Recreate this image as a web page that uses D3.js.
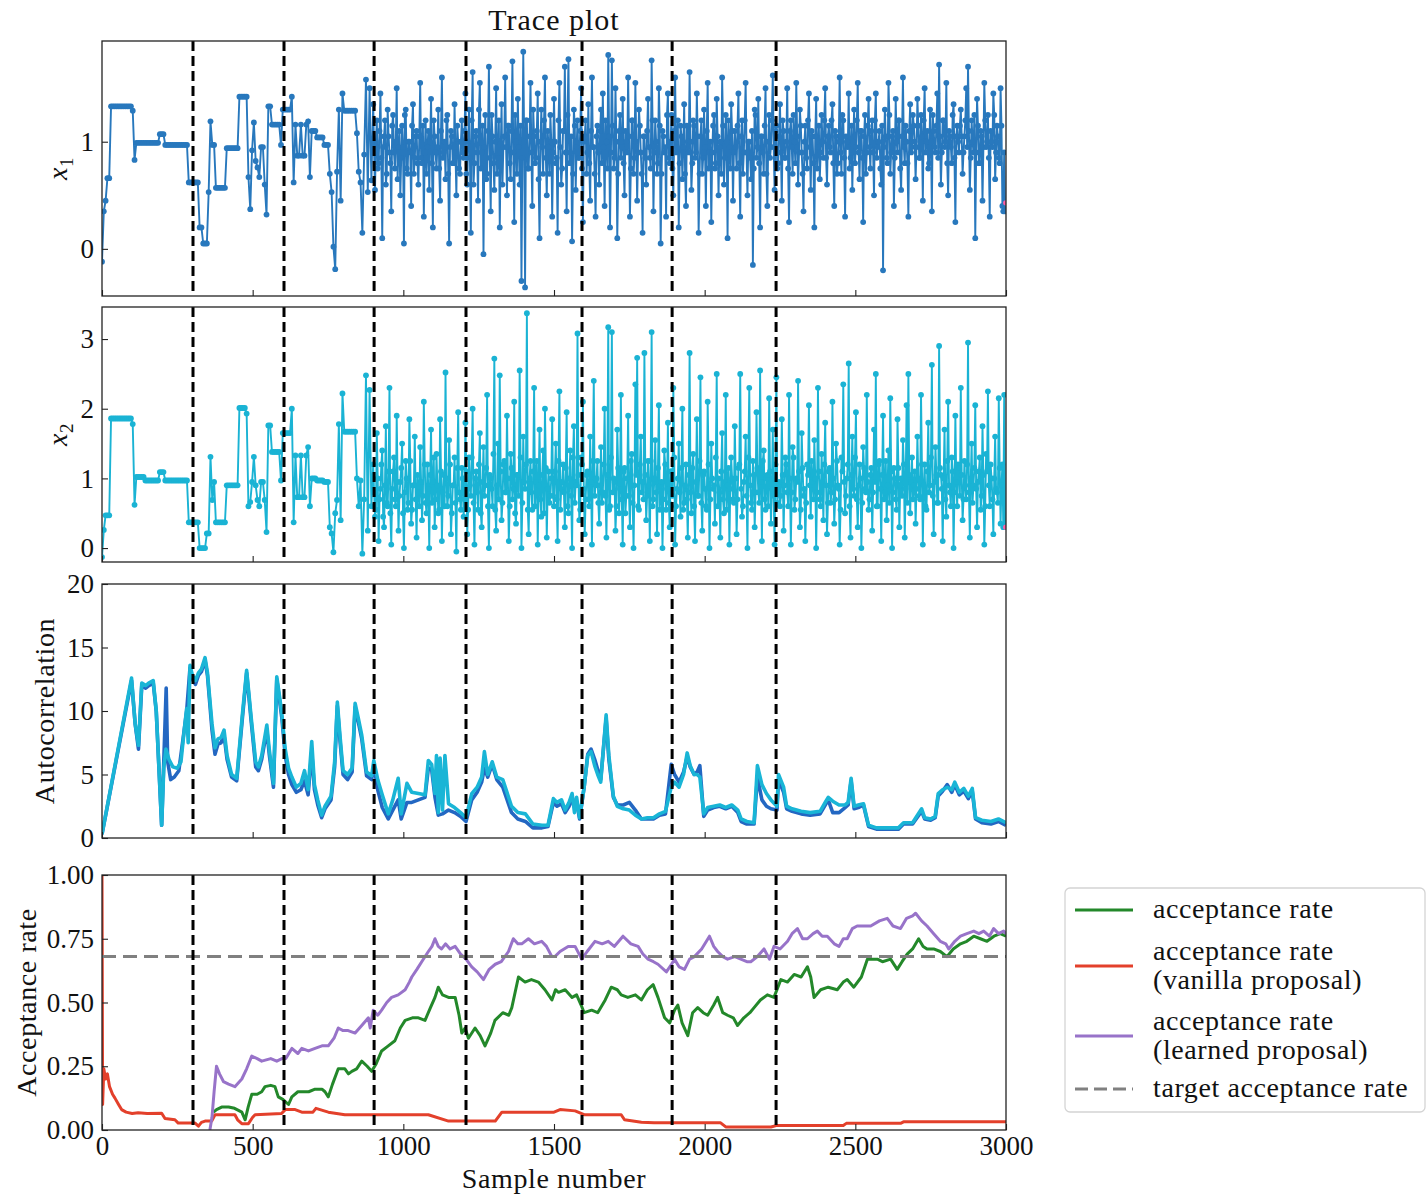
<!DOCTYPE html>
<html>
<head>
<meta charset="utf-8">
<script src="https://cdn.jsdelivr.net/npm/d3@7"></script>
<style>
  body { margin: 0; background: #fff; }
  text { font-family: "Liberation Serif", "Times New Roman", serif; fill: #111; }
  .lbl { font-size: 28px; letter-spacing: 0.6px; }
</style>
</head>
<body>
<svg id="chart" width="1426" height="1194"></svg>
<script>
// samples are stored every traceStep iterations of the chain
const traceStep = 6;
// extra samples in the well-mixed part of the chain (from sample 903 on, every 6)
const midStart = 903;

const traceX1 = [
  -0.12, 0.35, 0.45, 0.66, 0.66, 1.33, 1.33, 1.33, 1.33, 1.33, 1.33, 1.33, 1.33, 1.33, 1.33, 1.33, 1.33, 1.29, 0.83, 0.99, 0.99, 0.99, 0.99, 0.99, 0.99,
  0.99, 0.99, 0.99, 0.99, 0.99, 0.99, 0.99, 1.07, 1.07, 1.07, 0.97, 0.97, 0.97, 0.97, 0.97, 0.97, 0.97, 0.97, 0.97, 0.97, 0.97, 0.97, 0.97, 0.62, 0.62,
  0.62, 0.62, 0.62, 0.62, 0.2, 0.2, 0.05, 0.05, 0.05, 0.53, 1.19, 0.97, 0.97, 0.57, 0.57, 0.57, 0.57, 0.57, 0.57, 0.94, 0.94, 0.94, 0.94, 0.94, 0.94,
  0.94, 1.42, 1.42, 1.42, 1.42, 1.42, 0.67, 0.37, 0.92, 1.18, 0.82, 0.76, 0.67, 0.95, 0.95, 0.6, 0.32, 1.33, 1.33, 1.16, 1.16, 1.16, 1.16, 1.16, 0.97,
  1.3, 1.3, 1.3, 1.3, 1.3, 1.42, 0.62, 1.16, 0.87, 0.87, 1.16, 0.87, 0.87, 1.16, 1.19, 0.67, 1.1, 1.1, 1.1, 1.04, 1.04, 1.04, 1.04, 0.97, 0.97,
  0.97, 0.7, 0.53, 0.02, -0.19, 0.72, 1.3, 0.45, 1.45, 1.29, 1.29, 1.29, 1.29, 1.29, 1.29, 1.29, 1.08, 0.72, 0.62, 0.15, 0.88, 1.58, 0.53, 1.5, 0.64,
  1.35, 0.55, 1.2, 0.8, 1.45, 0.1, 1.05, 0.6, 1.3, 0.9, 0.35, 1.25, 0.75, 1.5, 0.95, 0.5, 1.15, 0.05, 1.3, 0.7, 1.0, 0.4, 1.35, 0.85, 1.1,
  0.6, 1.55, 0.8, 0.3, 1.2, 0.95, 0.55, 1.4, 0.2, 1.05, 0.75, 1.3, 0.45, 1.6, 0.9, 0.65, 1.25, 0.05, 1.1, 0.8, 1.35, 0.5, 1.0, 0.7, 1.2,
  0.85, 1.45, 0.6, 1.3, 0.15, 1.65, 0.8, 1.1, 0.45, 1.55, 0.9, -0.05, 1.25, 0.7, 1.7, 0.35, 1.05, 0.55, 1.5, 0.85, 0.2, 1.35, 0.95, 1.6, 0.5,
  1.15, 0.65, 1.75, 0.25, 1.0, 1.4, 0.6, -0.3, 1.84, -0.36, 1.2, 0.75, 1.55, 0.4, 1.05, 0.85, 1.45, 0.1, 1.3, 0.7, 1.6, 0.5, 0.95, 1.25, 0.3,
  1.4, 0.8, 0.15, 1.55, 0.6, 1.1, 1.7, 0.35, 1.77, 0.9, 0.07, 1.3, 0.55, 1.2, 0.85, 1.5, 0.25, 1.05, 0.7, 1.35, 0.45, 1.6, 0.95, 0.3, 1.15,
  0.6, 1.3, 1.45, 0.4, 1.0, 1.81, 0.2, 1.76, 0.75, 1.5, 0.1, 1.1, 0.85, 1.4, 0.5, 1.0, 1.6, 0.3, 1.2, 0.7, 1.55, 0.45, 1.3, 0.9, 0.15,
  1.05, 0.6, 1.4, 0.85, 1.76, 0.35, 1.2, 0.7, 1.5, 0.05, 1.1, 0.9, 0.3, 1.45, 0.8, 1.25, 0.5, 1.6, 0.95, 0.2, 1.15, 0.65, 1.35, 0.4, 1.0,
  1.65, 0.55, 1.2, 0.85, 1.45, 0.15, 1.05, 0.7, 1.3, 0.4, 1.55, 0.9, 0.25, 1.15, 0.75, 1.4, 0.5, 1.0, 1.6, 0.6, 1.25, 0.1, 0.95, 1.35, 0.45,
  1.1, 0.75, 1.45, 0.3, 1.2, 0.9, 1.55, 0.5, 1.0, 0.65, -0.15, 1.3, 0.85, 1.4, 0.2, 1.05, 0.7, 1.5, 0.4, 1.25, 0.95, 1.62, 0.55, 1.15, 0.8,
  1.35, 0.45, 1.1, 0.85, 1.5, 0.25, 1.2, 0.7, 1.0, 1.55, 0.6, 1.3, 0.9, 0.35, 1.15, 0.75, 1.45, 0.55, 1.05, 0.2, 1.4, 0.95, 0.65, 1.25, 0.85,
  1.5, 0.6, 1.15, 0.9, 1.35, 0.4, 1.05, 0.8, 1.6, 0.7, 1.2, 0.3, 1.0, 1.45, 0.85, 0.55, 1.3, 0.95, 1.55, 0.65, 1.1, 0.25, 1.25, 0.9, 1.4,
  0.75, 1.2, 0.5, 1.45, 0.95, 1.1, 0.6, -0.2, 1.3, 0.85, 1.55, 0.7, 1.05, 0.4, 1.4, 0.9, 1.2, 0.55, 1.6, 0.8, 1.0, 0.3, 1.35, 0.95, 1.15,
  0.65, 1.4, 0.85, 1.25, 0.45, 1.5, 1.0, 0.75, 1.3, 0.35, 1.1, 0.9, 1.45, 1.72, 0.6, 1.2, 0.95, 1.55, 0.5, 1.05, 0.8, 1.35, 0.25, 1.15, 0.9,
  1.3, 0.7, 1.05, 1.5, 1.7, 0.55, 1.2, 0.9, 0.1, 1.4, 0.8, 1.1, 0.45, 1.55, 0.95, 1.25, 0.3, 1.0, 1.45, 0.65, 1.15, 0.85, 1.5, 0.4, 0.9
];

const traceX1Mid = [
  0.9, 1.0, 0.75, 1.1, 0.85, 0.95, 1.2, 0.7, 1.05, 0.8, 1.15, 0.9, 1.0, 0.65, 1.1, 0.85, 0.95, 1.25, 0.75, 1.0, 0.9, 1.15, 0.7, 1.05, 0.8,
  1.05, 0.85, 1.15, 0.9, 0.7, 1.1, 1.0, 0.8, 1.2, 0.9, 0.95, 0.75, 1.1, 0.85, 1.0, 1.2, 0.7, 0.95, 1.05, 0.8, 0.9, 1.15, 0.75, 1.0, 0.9,
  1.1, 0.7, 1.0, 0.85, 1.2, 0.6, 1.05, 0.9, 1.3, 0.75, 1.15, 0.95, 0.65, 1.1, 0.85, 1.25, 0.8, 1.0, 0.7, 1.2, 0.9, 0.6, 1.05, 0.95, 1.15,
  0.8, 1.1, 0.9, 1.25, 0.7, 0.95, 1.15, 0.85, 1.0, 1.2, 0.75, 1.05, 0.9, 1.3, 0.8, 1.1, 0.65, 1.0, 0.95, 1.2, 0.85, 1.1, 0.7, 1.0, 0.9,
  1.0, 0.85, 1.2, 0.95, 0.75, 1.1, 0.9, 1.25, 0.8, 1.05, 0.7, 1.15, 0.95, 0.85, 1.1, 0.75, 1.0, 1.2, 0.9, 0.8, 1.1, 0.95, 0.7, 1.05, 0.9,
  1.1, 0.8, 0.95, 1.2, 0.75, 1.05, 0.9, 1.15, 0.85, 1.0, 0.7, 1.25, 0.95, 0.8, 1.1, 0.9, 1.05, 0.75, 1.2, 0.85, 1.0, 0.9, 1.15, 0.7, 1.05,
  0.85, 1.1, 0.95, 0.75, 1.2, 0.9, 1.0, 0.8, 1.15, 0.7, 1.05, 0.95, 1.25, 0.85, 1.0, 0.75, 1.1, 0.9, 1.2, 0.8, 1.05, 0.95, 0.7, 1.15, 0.9,
  1.0, 0.8, 1.15, 0.9, 1.05, 0.7, 1.2, 0.85, 0.95, 1.1, 0.75, 1.0, 0.9, 1.25, 0.8, 1.05, 0.95, 0.7, 1.15, 0.85, 1.0, 1.2, 0.75, 1.1, 0.9,
  0.95, 1.15, 0.8, 1.05, 0.7, 1.2, 0.9, 1.0, 0.85, 1.1, 0.75, 1.25, 0.95, 0.8, 1.05, 0.9, 1.15, 0.7, 1.0, 0.85, 1.2, 0.95, 1.1, 0.75, 1.05,
  0.9, 1.2, 0.85, 1.0, 0.75, 1.1, 0.95, 1.25, 0.8, 1.05, 0.9, 1.15, 0.7, 1.0, 0.85, 1.2, 0.95, 1.1, 0.8, 1.05, 0.75, 1.15, 0.9, 1.0, 1.2,
  0.85, 1.05, 0.95, 1.2, 0.8, 1.1, 0.7, 1.0, 0.9, 1.25, 0.85, 1.05, 0.95, 0.75, 1.15, 1.0, 0.8, 1.2, 0.9, 1.1, 0.85, 1.05, 0.7, 1.15, 0.95,
  1.1, 0.9, 1.2, 0.85, 1.0, 0.75, 1.15, 0.95, 1.05, 0.8, 1.25, 0.9, 1.1, 0.85, 1.0, 1.2, 0.75, 1.05, 0.95, 1.15, 0.8, 1.1, 0.9, 1.25, 1.0,
  0.95, 1.15, 0.85, 1.05, 1.2, 0.9, 1.1, 0.8, 1.0, 1.25, 0.95, 1.15, 0.85, 1.05, 0.9, 1.2, 1.0, 0.8, 1.1, 0.95, 1.25, 0.85, 1.05, 1.0, 1.15,
  1.05, 0.9, 1.2, 0.95, 1.1, 0.85, 1.0, 1.25, 0.9, 1.15, 0.8, 1.05, 0.95, 1.2, 1.0, 0.85, 1.1, 0.95, 1.25, 0.9, 1.05, 0.8, 1.15, 0.35, 0.35
];

const traceX2 = [
  -0.13, 0.26, 0.47, 0.47, 0.47, 1.86, 1.86, 1.86, 1.86, 1.86, 1.86, 1.86, 1.86, 1.86, 1.86, 1.86, 1.86, 1.78, 0.62, 1.02, 1.02, 1.02, 1.02, 1.02, 0.97,
  0.97, 0.97, 0.97, 0.97, 0.97, 0.97, 0.97, 1.09, 1.09, 1.09, 0.97, 0.97, 0.97, 0.97, 0.97, 0.97, 0.97, 0.97, 0.97, 0.97, 0.97, 0.97, 0.97, 0.37, 0.37,
  0.37, 0.37, 0.37, 0.37, 0.0, 0.0, 0.0, 0.0, 0.21, 0.21, 1.31, 0.69, 0.95, 0.37, 0.37, 0.37, 0.37, 0.37, 0.37, 0.9, 0.9, 0.9, 0.9, 0.9, 0.9,
  0.9, 2.01, 2.01, 2.01, 2.01, 1.93, 0.6, 0.66, 0.95, 1.31, 0.9, 0.69, 0.6, 0.95, 0.95, 0.69, 0.23, 1.76, 1.76, 1.38, 1.38, 1.38, 1.38, 1.38, 0.97,
  1.65, 1.65, 1.65, 1.65, 1.65, 2.0, 0.37, 1.33, 0.73, 0.73, 1.33, 0.73, 0.73, 1.33, 1.45, 0.6, 1.0, 1.0, 1.0, 0.97, 0.97, 0.97, 0.97, 0.95, 0.95,
  0.95, 0.3, 0.21, -0.06, 0.5, 0.69, 1.78, 0.4, 2.22, 1.67, 1.67, 1.67, 1.67, 1.67, 1.67, 1.67, 1.0, 0.6, 0.97, -0.08, 0.7, 2.48, 0.25, 2.27, 0.6,
  1.2, 0.45, 1.65, 0.1, 0.85, 1.4, 0.3, 1.75, 0.6, 2.3, 0.05, 1.1, 0.7, 1.9, 0.25, 0.95, 1.5, 0.0, 1.25, 0.55, 1.85, 0.35, 0.9, 1.6, 0.15,
  0.8, 1.45, 0.4, 2.1, 0.65, 1.2, 0.0, 1.7, 0.95, 0.3, 1.35, 0.5, 1.85, 0.1, 1.05, 2.52, 0.6, 1.55, 0.2, 0.9, 1.3, -0.05, 1.95, 0.7, 1.15,
  0.45, 1.8, 0.2, 1.3, 0.75, 2.0, 0.05, 1.1, 0.55, 1.65, 0.3, 1.45, 0.9, 2.2, 0.0, 1.0, 0.6, 2.72, 0.25, 1.5, 2.48, 0.4, 1.2, 0.8, 1.9,
  0.1, 1.35, 0.7, 2.1, 0.35, 1.05, 2.55, 0.0, 1.6, 0.85, 3.37, 0.2, 1.25, 0.55, 2.3, 0.95, 0.05, 1.7, 0.45, 1.4, 2.0, 0.15, 1.1, 0.75, 1.85,
  0.6, 1.5, 0.1, 2.25, 0.85, 1.2, 0.3, 1.95, 0.5, 1.4, 0.0, 1.75, 0.95, 3.08, 0.4, 1.3, 2.1, 0.2, 1.05, 0.7, 1.6, 0.05, 2.4, 0.9, 1.25,
  0.35, 1.45, 0.8, 2.0, 0.15, 3.17, 0.6, 3.1, 1.0, 0.25, 1.7, 0.5, 2.2, 0.05, 1.15, 0.75, 1.9, 0.3, 1.35, 0.0, 2.35, 2.73, 0.55, 1.6, 0.95,
  2.8, 0.4, 1.25, 0.1, 3.1, 0.7, 1.55, 0.2, 2.05, 0.9, 0.0, 1.4, 0.55, 1.8, 0.3, 1.1, 2.3, 0.05, 0.85, 1.5, 0.45, 2.0, 0.65, 1.2, 0.15,
  2.8, 0.5, 1.35, 0.1, 1.85, 0.75, 2.45, 0.25, 1.1, 0.6, 2.1, 0.0, 1.5, 0.85, 0.35, 2.5, 1.0, 0.15, 1.65, 0.5, 2.2, 0.9, 0.05, 1.3, 0.7,
  1.75, 0.2, 1.15, 2.5, 0.45, 0.95, 1.6, 0.0, 2.3, 0.65, 1.25, 0.3, 1.95, 0.8, 2.55, 0.1, 1.4, 0.55, 1.05, 2.15, 0.35, 1.7, 0.05, 2.45, 0.9,
  0.6, 1.85, 0.25, 1.3, 0.8, 2.2, 0.05, 1.45, 0.55, 1.0, 2.4, 0.3, 1.65, 0.75, 0.1, 1.2, 2.05, 0.45, 0.95, 1.55, 0.0, 2.3, 0.7, 1.35, 0.4,
  1.8, 0.2, 1.1, 0.65, 2.1, 0.35, 1.5, 0.9, 0.05, 1.3, 2.35, 0.5, 1.0, 2.65, 0.15, 1.6, 0.75, 1.95, 0.3, 1.2, 0.0, 1.45, 0.85, 2.2, 0.55,
  1.05, 0.25, 1.7, 2.5, 0.6, 1.25, 0.1, 1.9, 0.8, 0.4, 1.4, 2.15, 0.0, 1.15, 0.7, 1.85, 0.3, 1.0, 1.55, 0.15, 2.05, 2.5, 0.5, 1.3, 0.9,
  0.35, 1.6, 0.75, 2.2, 0.05, 1.2, 0.55, 1.8, 0.9, 2.63, 0.2, 1.45, 0.65, 2.9, 1.05, 0.1, 1.7, 0.45, 2.1, 0.8, 1.3, 0.0, 1.9, 0.6, 1.15,
  2.3, 0.4, 1.25, 0.7, 2.95, 0.15, 1.5, 0.9, 2.05, 0.3, 1.1, 0.55, 1.75, 0.05, 1.35, 2.25, 0.6, 1.0, 0.2, 1.6, 0.8, 2.15, 0.35, 1.2, 2.2
];

const traceX2Mid = [
  0.8, 0.55, 1.0, 0.7, 1.2, 0.45, 0.9, 0.65, 1.1, 0.5, 0.85, 1.3, 0.6, 0.95, 0.75, 1.15, 0.5, 0.8, 1.0, 0.65, 1.25, 0.55, 0.9, 0.7, 1.05,
  0.6, 0.95, 0.75, 1.2, 0.5, 0.85, 1.05, 0.65, 1.3, 0.7, 0.9, 0.55, 1.1, 0.8, 0.6, 1.0, 0.75, 1.2, 0.5, 0.9, 0.65, 1.15, 0.8, 0.55, 1.0,
  0.7, 1.1, 0.55, 0.9, 1.3, 0.65, 1.0, 0.8, 1.2, 0.5, 0.95, 0.75, 1.15, 0.6, 1.05, 0.85, 1.35, 0.55, 0.9, 0.7, 1.1, 0.65, 1.25, 0.8, 1.0,
  0.6, 1.15, 0.85, 0.5, 1.05, 0.75, 1.3, 0.65, 0.95, 1.2, 0.55, 1.0, 0.8, 1.1, 0.6, 1.25, 0.9, 0.7, 1.05, 0.5, 1.15, 0.85, 0.65, 1.0, 0.75,
  1.1, 0.7, 1.25, 0.55, 0.95, 0.8, 1.15, 0.6, 1.0, 0.75, 1.3, 0.65, 0.9, 1.05, 0.55, 1.2, 0.85, 0.7, 1.1, 0.6, 0.95, 1.25, 0.75, 1.0, 0.65,
  0.9, 0.65, 1.2, 0.75, 1.05, 0.55, 1.3, 0.8, 0.95, 0.6, 1.15, 0.85, 0.7, 1.1, 0.5, 1.0, 0.75, 1.25, 0.65, 0.9, 1.05, 0.6, 1.2, 0.8, 0.7,
  1.05, 0.75, 0.9, 1.25, 0.6, 1.0, 0.8, 1.15, 0.55, 0.95, 0.7, 1.2, 0.85, 0.65, 1.1, 0.75, 1.3, 0.6, 1.0, 0.8, 1.15, 0.55, 0.9, 0.7, 1.05,
  0.8, 1.15, 0.6, 0.95, 0.75, 1.25, 0.65, 1.05, 0.85, 0.55, 1.2, 0.7, 1.0, 0.9, 1.3, 0.6, 0.8, 1.1, 0.7, 0.95, 0.55, 1.15, 0.85, 1.0, 0.65,
  1.0, 0.7, 1.2, 0.85, 0.6, 1.1, 0.75, 1.3, 0.9, 0.55, 1.05, 0.8, 1.15, 0.65, 0.95, 1.25, 0.7, 1.0, 0.6, 1.1, 0.85, 0.75, 1.2, 0.65, 0.95,
  0.75, 1.05, 0.9, 1.2, 0.6, 1.0, 0.8, 1.3, 0.7, 0.95, 1.1, 0.55, 1.15, 0.85, 0.65, 1.05, 0.9, 1.25, 0.7, 1.0, 0.8, 1.1, 0.6, 0.95, 1.2,
  0.9, 0.65, 1.15, 0.8, 1.0, 0.7, 1.25, 0.85, 0.55, 1.1, 0.95, 0.75, 1.2, 0.6, 1.05, 0.85, 1.3, 0.7, 0.9, 1.0, 0.65, 1.15, 0.8, 0.95, 0.7,
  1.15, 0.8, 0.95, 0.6, 1.2, 0.85, 1.05, 0.7, 1.25, 0.9, 0.65, 1.1, 0.8, 1.0, 0.55, 1.15, 0.9, 0.75, 1.2, 0.85, 0.65, 1.05, 0.95, 0.7, 1.1,
  0.85, 1.0, 0.7, 1.2, 0.9, 0.6, 1.1, 0.8, 1.3, 0.75, 0.95, 1.05, 0.65, 1.15, 0.85, 1.0, 0.7, 1.25, 0.9, 0.6, 1.1, 0.8, 0.95, 1.2, 0.75,
  1.05, 0.7, 0.9, 1.2, 0.8, 1.0, 0.65, 1.15, 0.85, 0.95, 1.3, 0.75, 1.05, 0.6, 1.1, 0.9, 1.2, 0.7, 1.0, 0.85, 0.65, 1.15, 0.9, 0.3, 0.3
];

// last sample of each coordinate (pink marker)
const finalSample = 2999;
const finalX1 = 0.43;
const finalX2 = 0.3;

// [sample, autocorrelation]
const autocorrX1 = [[0,0.3],[98,12.4],[110,9],[121,7.0],[132,12.0],[145,11.8],[155,12.0],[170,12.2],[180,10],[198,1.0],[205,6.0],[213,11.8],[218,6],[228,4.6],[240,4.8],[255,5.3],[270,8.0],[281,10.0],[292,13.4],[300,12.5],[310,12.1],[320,12.8],[330,13.1],[342,14.0],[350,12.8],[365,8.5],[375,6.6],[385,7.4],[395,7.5],[405,8.1],[415,6.2],[430,4.8],[447,4.5],[465,9.2],[480,13.0],[495,9.2],[510,5.6],[519,5.3],[530,6.2],[547,8.5],[555,6.6],[569,4.0],[580,12.5],[590,10.7],[597,9.4],[608,6.5],[619,5.0],[630,4.2],[645,3.6],[660,3.8],[672,4.5],[684,3.4],[696,6.8],[705,3.8],[716,2.6],[729,1.6],[740,2.3],[760,3.0],[772,5.6],[781,10.4],[790,7.6],[800,5.0],[815,4.6],[830,5.2],[840,10.3],[850,9.2],[862,7.8],[878,4.9],[895,4.6],[902,5.8],[915,3.8],[930,2.4],[950,1.5],[965,2.2],[983,3.0],[993,1.5],[1012,2.8],[1028,2.8],[1050,3.0],[1072,3.2],[1083,5.5],[1094,5.4],[1105,3.2],[1116,1.8],[1130,1.9],[1150,2.2],[1170,2.0],[1190,1.7],[1208,1.3],[1227,3.0],[1245,3.6],[1260,4.4],[1269,5.5],[1280,4.8],[1295,5.8],[1310,4.6],[1330,4.0],[1359,2.0],[1380,1.5],[1405,1.3],[1430,0.8],[1460,0.8],[1480,0.9],[1498,2.8],[1510,2.5],[1525,2.7],[1537,2.0],[1550,2.5],[1560,3.0],[1575,2.8],[1585,1.5],[1600,4.0],[1612,6.6],[1623,7.0],[1635,6.2],[1645,5.4],[1655,4.6],[1673,9.4],[1682,6.2],[1697,3.2],[1710,2.6],[1730,2.6],[1750,2.8],[1770,2.2],[1790,1.5],[1810,1.5],[1830,1.5],[1850,1.8],[1870,1.9],[1889,5.8],[1900,5.0],[1915,4.4],[1930,5.2],[1942,6.4],[1952,5.6],[1965,5.0],[1975,5.2],[1984,5.7],[1997,1.7],[2010,2.2],[2030,2.4],[2050,2.5],[2070,2.3],[2090,2.5],[2110,2.0],[2121,1.3],[2140,1.1],[2164,1.1],[2175,4.8],[2190,3.0],[2205,2.5],[2220,2.3],[2240,2.2],[2245,4.6],[2262,3.6],[2272,2.3],[2290,2.1],[2320,1.9],[2350,1.8],[2383,1.9],[2400,2.6],[2410,3.0],[2425,2.0],[2446,2.0],[2466,2.4],[2476,2.6],[2486,4.5],[2496,2.3],[2510,2.4],[2527,2.6],[2544,0.9],[2570,0.7],[2600,0.7],[2620,0.7],[2643,0.7],[2660,1.1],[2690,1.1],[2720,2.1],[2730,1.5],[2750,1.4],[2765,1.6],[2775,3.3],[2790,3.7],[2805,4.2],[2820,3.6],[2830,4.2],[2845,3.4],[2860,3.7],[2875,3.1],[2888,3.7],[2899,1.5],[2920,1.2],[2950,1.1],[2975,1.3],[3000,1.0]];

const autocorrX2 = [[0,0.3],[98,12.6],[110,9],[121,7.3],[132,12.2],[145,12.0],[155,12.2],[170,12.4],[180,10],[198,1.0],[205,5.5],[212,7.0],[222,6.2],[235,5.6],[250,5.5],[262,6.0],[272,8.3],[281,10.2],[286,7.5],[292,13.6],[300,12.8],[310,12.4],[320,13.0],[330,13.3],[342,14.2],[350,13.0],[365,9],[375,7.1],[385,7.8],[395,7.9],[405,8.5],[415,6.5],[430,5.0],[447,4.7],[465,9.5],[480,13.2],[495,9.5],[510,6.0],[519,5.6],[530,6.5],[547,8.9],[555,7],[569,4.3],[580,12.7],[590,11],[597,9.7],[608,7],[619,5.5],[630,4.8],[645,4.0],[660,4.3],[672,5.3],[684,3.8],[696,7.6],[705,4.2],[716,3.0],[729,1.8],[740,2.5],[760,3.3],[772,6.0],[781,10.7],[790,8],[800,5.3],[815,5.0],[830,5.5],[840,10.6],[850,9.5],[862,8.1],[878,5.2],[895,4.9],[902,6.1],[915,4.6],[930,3.4],[950,1.9],[965,3],[983,4.7],[993,1.9],[1012,4.3],[1028,3.6],[1050,3.5],[1072,3.4],[1083,6.1],[1094,5.8],[1105,3.5],[1110,6.5],[1116,2.0],[1122,6.3],[1130,2.2],[1138,6.5],[1150,2.7],[1170,2.4],[1190,2.0],[1208,1.6],[1227,3.5],[1245,4.0],[1260,4.8],[1269,6.8],[1280,5.0],[1295,6.0],[1310,4.8],[1330,4.6],[1359,2.5],[1380,2.0],[1405,1.9],[1430,1.1],[1460,1.0],[1480,1.0],[1498,3.1],[1510,2.8],[1525,3.0],[1537,2.2],[1550,2.8],[1560,3.5],[1568,2.0],[1575,3.2],[1585,1.6],[1600,4.0],[1612,6.5],[1623,6.8],[1635,5.7],[1645,5.0],[1655,4.4],[1673,9.7],[1682,6.5],[1697,3.3],[1710,2.5],[1730,2.3],[1750,2.2],[1770,1.8],[1790,1.5],[1810,1.6],[1830,1.6],[1850,1.9],[1870,2.1],[1889,4.0],[1900,4.4],[1915,4.0],[1930,5.0],[1942,6.7],[1952,5.7],[1965,5.0],[1975,5.0],[1984,4.8],[1997,1.9],[2010,2.4],[2030,2.5],[2050,2.6],[2070,2.4],[2090,2.6],[2110,2.2],[2121,1.5],[2140,1.3],[2164,1.2],[2175,5.7],[2190,4.2],[2205,3.5],[2220,3.0],[2240,2.5],[2245,5.0],[2262,4.0],[2272,2.5],[2290,2.3],[2320,2.1],[2350,2.0],[2383,2.1],[2400,2.8],[2410,3.2],[2425,2.9],[2446,2.6],[2466,2.6],[2476,2.8],[2486,4.7],[2496,2.5],[2510,2.6],[2527,2.7],[2544,1.0],[2570,0.8],[2600,0.8],[2620,0.8],[2643,0.8],[2660,1.2],[2690,1.2],[2720,2.3],[2730,1.6],[2750,1.5],[2765,1.7],[2775,3.5],[2790,3.8],[2805,4.0],[2820,3.8],[2830,4.4],[2845,3.6],[2860,3.9],[2875,3.3],[2888,3.9],[2899,1.6],[2920,1.4],[2950,1.3],[2975,1.5],[3000,1.2]];

// [sample, acceptance rate]
const accVanilla = [[0,1.0],[2,0.1],[6,0.24],[12,0.2],[18,0.22],[25,0.17],[35,0.14],[43,0.125],[55,0.1],[65,0.08],[80,0.07],[100,0.065],[120,0.068],[150,0.065],[198,0.066],[209,0.045],[242,0.04],[253,0.027],[309,0.027],[320,0.015],[330,0.03],[342,0.035],[364,0.035],[375,0.06],[441,0.06],[450,0.04],[464,0.025],[486,0.025],[500,0.05],[508,0.06],[596,0.065],[608,0.08],[641,0.08],[663,0.07],[700,0.07],[710,0.085],[751,0.07],[806,0.06],[895,0.06],[906,0.06],[1000,0.06],[1083,0.06],[1150,0.035],[1305,0.035],[1327,0.07],[1500,0.07],[1520,0.08],[1570,0.075],[1600,0.06],[1723,0.06],[1734,0.04],[1790,0.03],[1832,0.028],[2053,0.028],[2070,0.012],[2220,0.012],[2240,0.018],[2460,0.018],[2470,0.026],[2650,0.026],[2660,0.032],[3000,0.032]];

const accRate = [[370,0.07],[380,0.08],[397,0.09],[420,0.09],[440,0.085],[464,0.07],[475,0.04],[485,0.09],[497,0.14],[515,0.14],[530,0.15],[541,0.17],[560,0.175],[574,0.17],[585,0.13],[600,0.12],[619,0.1],[630,0.13],[650,0.15],[686,0.15],[707,0.16],[730,0.16],[740,0.15],[751,0.13],[765,0.18],[784,0.24],[806,0.24],[818,0.22],[829,0.23],[845,0.24],[862,0.27],[880,0.25],[895,0.23],[910,0.26],[928,0.31],[950,0.33],[972,0.35],[990,0.4],[1006,0.43],[1030,0.44],[1050,0.44],[1072,0.43],[1090,0.48],[1105,0.52],[1116,0.56],[1130,0.53],[1150,0.52],[1172,0.52],[1185,0.45],[1194,0.38],[1205,0.4],[1216,0.36],[1238,0.4],[1255,0.37],[1271,0.33],[1290,0.38],[1304,0.43],[1330,0.46],[1350,0.45],[1360,0.48],[1382,0.6],[1404,0.58],[1425,0.59],[1448,0.58],[1470,0.55],[1493,0.51],[1505,0.55],[1515,0.54],[1537,0.55],[1560,0.52],[1575,0.53],[1590,0.49],[1600,0.46],[1625,0.47],[1645,0.46],[1670,0.51],[1690,0.56],[1710,0.55],[1723,0.53],[1745,0.52],[1770,0.53],[1790,0.51],[1810,0.55],[1829,0.57],[1845,0.52],[1867,0.44],[1884,0.42],[1900,0.47],[1911,0.49],[1925,0.42],[1944,0.37],[1960,0.46],[1977,0.48],[1995,0.46],[2010,0.45],[2030,0.49],[2043,0.52],[2060,0.46],[2076,0.45],[2095,0.44],[2109,0.41],[2130,0.44],[2150,0.46],[2164,0.48],[2185,0.51],[2208,0.53],[2230,0.52],[2253,0.59],[2275,0.58],[2297,0.61],[2320,0.6],[2341,0.64],[2352,0.6],[2363,0.52],[2385,0.55],[2410,0.56],[2440,0.55],[2460,0.58],[2473,0.59],[2495,0.56],[2520,0.6],[2540,0.67],[2573,0.67],[2590,0.66],[2617,0.67],[2639,0.63],[2655,0.66],[2672,0.69],[2690,0.71],[2710,0.75],[2725,0.72],[2738,0.71],[2760,0.71],[2782,0.7],[2804,0.68],[2825,0.71],[2849,0.73],[2870,0.74],[2893,0.76],[2915,0.75],[2937,0.74],[2960,0.76],[2981,0.77],[3000,0.76]];

const accLearned = [[358,0.0],[365,0.05],[372,0.15],[380,0.25],[390,0.22],[403,0.19],[420,0.18],[441,0.17],[464,0.2],[480,0.24],[497,0.29],[515,0.28],[530,0.27],[560,0.28],[580,0.27],[597,0.28],[610,0.28],[630,0.32],[650,0.3],[663,0.32],[685,0.31],[707,0.32],[730,0.33],[751,0.33],[770,0.36],[784,0.4],[800,0.39],[817,0.39],[840,0.38],[862,0.41],[884,0.44],[890,0.4],[900,0.47],[915,0.45],[928,0.47],[945,0.5],[961,0.52],[983,0.53],[1006,0.55],[1020,0.58],[1028,0.6],[1045,0.63],[1061,0.66],[1083,0.7],[1095,0.72],[1105,0.75],[1116,0.72],[1127,0.71],[1140,0.73],[1155,0.71],[1172,0.72],[1190,0.69],[1208,0.67],[1227,0.64],[1245,0.62],[1266,0.59],[1285,0.63],[1305,0.65],[1325,0.66],[1349,0.7],[1365,0.75],[1380,0.73],[1393,0.73],[1415,0.75],[1435,0.73],[1459,0.74],[1475,0.72],[1493,0.68],[1503,0.68],[1520,0.7],[1547,0.72],[1570,0.72],[1592,0.67],[1610,0.7],[1636,0.74],[1660,0.73],[1680,0.74],[1700,0.72],[1729,0.76],[1755,0.73],[1779,0.72],[1795,0.69],[1812,0.67],[1830,0.66],[1845,0.65],[1873,0.62],[1890,0.65],[1900,0.67],[1915,0.64],[1933,0.63],[1950,0.67],[1966,0.68],[1990,0.71],[2016,0.76],[2030,0.72],[2043,0.7],[2060,0.68],[2076,0.67],[2100,0.68],[2120,0.67],[2140,0.66],[2153,0.66],[2175,0.68],[2197,0.71],[2215,0.67],[2230,0.72],[2250,0.71],[2275,0.74],[2290,0.77],[2308,0.79],[2325,0.75],[2341,0.75],[2360,0.77],[2374,0.78],[2390,0.76],[2407,0.76],[2430,0.73],[2446,0.72],[2460,0.75],[2473,0.75],[2490,0.79],[2506,0.8],[2530,0.8],[2551,0.8],[2580,0.82],[2606,0.83],[2625,0.8],[2650,0.79],[2670,0.83],[2690,0.84],[2700,0.85],[2720,0.82],[2738,0.8],[2760,0.77],[2782,0.74],[2800,0.73],[2810,0.71],[2830,0.74],[2849,0.76],[2870,0.77],[2893,0.78],[2910,0.77],[2926,0.78],[2945,0.76],[2959,0.79],[2975,0.77],[2992,0.78],[3000,0.77]];

const targetRate = 0.68;
// samples where the proposal was retrained
const changePoints = [302, 604, 903, 1208, 1593, 1892, 2237];

const xTicks = [0, 500, 1000, 1500, 2000, 2500, 3000];

const legendItems = [
  {lines: ["acceptance rate"], color: "#23882a", dash: null},
  {lines: ["acceptance rate", "(vanilla proposal)"], color: "#e3402b", dash: null},
  {lines: ["acceptance rate", "(learned proposal)"], color: "#9873c9", dash: null},
  {lines: ["target acceptance rate"], color: "#808080", dash: "13,6"}
];

const svg = d3.select("#chart");
const left = 102, width = 904;
const FONT = 27;

const x = d3.scaleLinear().domain([0, 3000]).range([left, left + width]);

const panels = [
  {top: 41, height: 255, domain: [-0.44, 1.94], ticks: [0, 1], fmt: d3.format("d")},
  {top: 307, height: 255, domain: [-0.2, 3.46], ticks: [0, 1, 2, 3], fmt: d3.format("d")},
  {top: 584, height: 254, domain: [0, 20], ticks: [0, 5, 10, 15, 20], fmt: d3.format("d")},
  {top: 875, height: 255, domain: [0, 1], ticks: [0, 0.25, 0.5, 0.75, 1], fmt: d3.format(".2f")}
];

panels.forEach((p, i) => {
  p.y = d3.scaleLinear().domain(p.domain).range([p.top + p.height, p.top]);
  svg.append("clipPath").attr("id", "clip" + i)
    .append("rect").attr("x", left).attr("y", p.top).attr("width", width).attr("height", p.height);
  p.g = svg.append("g").attr("clip-path", "url(#clip" + i + ")");
});

// trace panels
function drawTrace(p, values, mids, color, finalVal) {
  const pts = values.map((v, i) => [i * traceStep, v])
    .concat(mids.map((v, i) => [midStart + i * traceStep, v]))
    .sort((a, b) => a[0] - b[0]);
  const line = d3.line().x(d => x(d[0])).y(d => p.y(d[1]));
  p.g.append("path").datum(pts)
    .attr("d", line).attr("fill", "none")
    .attr("stroke", color).attr("stroke-width", 1.9);
  p.g.selectAll(null).data(pts).enter().append("circle")
    .attr("cx", d => x(d[0])).attr("cy", d => p.y(d[1]))
    .attr("r", 2.9).attr("fill", color);
  p.g.append("circle").attr("cx", x(finalSample)).attr("cy", p.y(finalVal))
    .attr("r", 2.6).attr("fill", "#ff5fa8");
}
drawTrace(panels[0], traceX1, traceX1Mid, "#2878bd", finalX1);
drawTrace(panels[1], traceX2, traceX2Mid, "#1ab3d4", finalX2);

function drawLine(p, pts, color, w, dash) {
  const line = d3.line().x(d => x(d[0])).y(d => p.y(d[1]));
  const path = p.g.append("path").datum(pts)
    .attr("d", line).attr("fill", "none")
    .attr("stroke", color).attr("stroke-width", w)
    .attr("stroke-linejoin", "round");
  if (dash) path.attr("stroke-dasharray", dash);
}
// autocorrelation
drawLine(panels[2], autocorrX1, "#2367c2", 3.6);
drawLine(panels[2], autocorrX2, "#19b5d6", 3.6);

// acceptance
drawLine(panels[3], accVanilla, legendItems[1].color, 3);
drawLine(panels[3], accRate, legendItems[0].color, 3);
drawLine(panels[3], accLearned, legendItems[2].color, 3);
drawLine(panels[3], [[0, targetRate], [3000, targetRate]], "#808080", 3, "14,7");

// dashed change points, axes, frame
panels.forEach((p, i) => {
  p.g.selectAll(null).data(changePoints).enter().append("line")
    .attr("x1", d => x(d)).attr("x2", d => x(d))
    .attr("y1", p.top).attr("y2", p.top + p.height)
    .attr("stroke", "#000").attr("stroke-width", 3)
    .attr("stroke-dasharray", "10,5");

  const ya = svg.append("g").attr("transform", "translate(" + left + ",0)")
    .call(d3.axisLeft(p.y).tickValues(p.ticks).tickFormat(p.fmt).tickSize(-6).tickPadding(8));
  const xa = svg.append("g").attr("transform", "translate(0," + (p.top + p.height) + ")")
    .call(d3.axisBottom(x).tickValues(xTicks).tickSize(-6).tickPadding(6)
      .tickFormat(i === 3 ? d3.format("d") : () => ""));
  [ya, xa].forEach(a => {
    a.select(".domain").remove();
    a.attr("font-family", null).attr("font-size", null);
    a.selectAll("line").attr("stroke", "#222").attr("stroke-width", 1.1);
    a.selectAll("text").style("font-size", FONT + "px").attr("fill", "#111");
  });

  svg.append("rect").attr("x", left).attr("y", p.top)
    .attr("width", width).attr("height", p.height)
    .attr("fill", "none").attr("stroke", "#222").attr("stroke-width", 1.3);
});

// axis labels
function vLabel(xp, yp) {
  return svg.append("text").attr("class", "lbl")
    .attr("transform", "translate(" + xp + "," + yp + ") rotate(-90)")
    .attr("text-anchor", "middle");
}
[["1", panels[0]], ["2", panels[1]]].forEach(([sub, p]) => {
  const t = vLabel(67, p.top + p.height / 2);
  t.append("tspan").style("font-style", "italic").text("x");
  t.append("tspan").attr("dy", 6).style("font-size", "19px").text(sub);
});
vLabel(54, panels[2].top + panels[2].height / 2).text("Autocorrelation");
vLabel(36, panels[3].top + panels[3].height / 2).text("Acceptance rate");

svg.append("text").attr("class", "lbl").attr("x", left + width / 2).attr("y", 1188)
  .attr("text-anchor", "middle").text("Sample number");
svg.append("text").attr("x", left + width / 2).attr("y", 30)
  .attr("text-anchor", "middle").style("font-size", "30px").style("letter-spacing", "1px")
  .text("Trace plot");

// legend
const lg = svg.append("g");
lg.append("rect").attr("x", 1065).attr("y", 888).attr("width", 360).attr("height", 224)
  .attr("rx", 5).attr("fill", "#fff").attr("stroke", "#d4d4d4").attr("stroke-width", 1.3);
const rowY = [910, 966, 1036, 1089];
legendItems.forEach((item, i) => {
  const cy = rowY[i];
  const ln = lg.append("line").attr("x1", 1075).attr("x2", 1133)
    .attr("y1", cy).attr("y2", cy)
    .attr("stroke", item.color).attr("stroke-width", 3);
  if (item.dash) ln.attr("stroke-dasharray", item.dash);
  const n = item.lines.length;
  item.lines.forEach((s, k) => {
    lg.append("text").attr("class", "lbl").attr("x", 1153)
      .attr("y", cy + (k - (n - 1) / 2) * 29 + 8)
      .text(s);
  });
});
</script>
</body>
</html>
